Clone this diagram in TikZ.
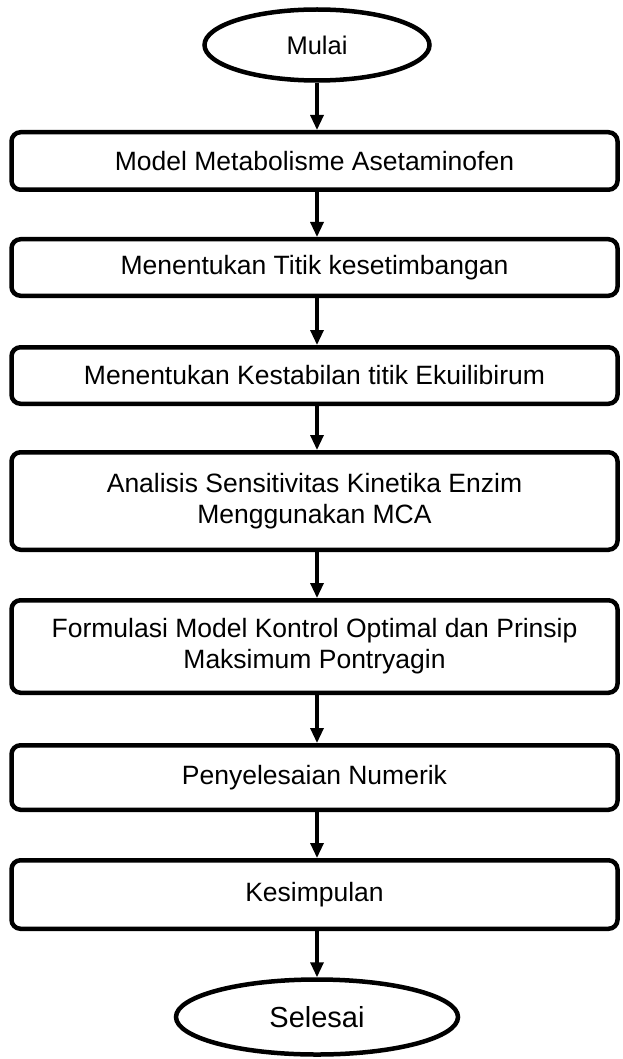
\documentclass[tikz,border=0pt]{standalone}
\usepackage{fontspec}
\setmainfont{Liberation Sans}
\usetikzlibrary{shapes.geometric,arrows.meta}
\begin{document}
\begin{tikzpicture}[x=1pt,y=1pt,
  stepbox/.style={draw, line width=4.5pt, rounded corners=9pt, minimum width=606pt, inner sep=0pt, align=center, font=\fontsize{26.5}{31}\selectfont},
  term/.style={draw, ellipse, line width=4.5pt, inner sep=0pt},
  flow/.style={line width=3.2pt, -{Triangle[width=13pt,length=15pt]}}]
\useasboundingbox (0,0) rectangle (622,-1059);
\node[term, minimum width=225pt, minimum height=71pt, font=\fontsize{25.5}{30}\selectfont] (start) at (317,-45) {Mulai};
\node[stepbox, minimum height=57.5pt] (b1) at (314.5,-161) {Model Metabolisme Asetaminofen};
\node[stepbox, minimum height=56.5pt] (b2) at (314.5,-267.5) {Menentukan Titik kesetimbangan};
\node[stepbox, minimum height=56.5pt] (b3) at (314.5,-375.5) {Menentukan Kestabilan titik Ekuilibirum};
\node[stepbox, minimum height=97.5pt] (b4) at (314.5,-501) {Analisis Sensitivitas Kinetika Enzim\\Menggunakan MCA};
\node[stepbox, minimum height=92.5pt] (b5) at (314.5,-646.5) {Formulasi Model Kontrol Optimal dan Prinsip\\Maksimum Pontryagin};
\node[stepbox, minimum height=64.5pt] (b6) at (314.5,-777.5) {Penyelesaian Numerik};
\node[stepbox, minimum height=68.5pt] (b7) at (314.5,-894.5) {Kesimpulan};
\node[term, minimum width=282pt, minimum height=75pt, font=\fontsize{29}{33}\selectfont] (stop) at (317,-1017) {Selesai};
\draw[flow] (start.south) -- (start.south |- b1.north);
\draw[flow] (start.south |- b1.south) -- (start.south |- b2.north);
\draw[flow] (start.south |- b2.south) -- (start.south |- b3.north);
\draw[flow] (start.south |- b3.south) -- (start.south |- b4.north);
\draw[flow] (start.south |- b4.south) -- (start.south |- b5.north);
\draw[flow] (start.south |- b5.south) -- (start.south |- b6.north);
\draw[flow] (start.south |- b6.south) -- (start.south |- b7.north);
\draw[flow] (start.south |- b7.south) -- (stop.north);
\end{tikzpicture}
\end{document}
